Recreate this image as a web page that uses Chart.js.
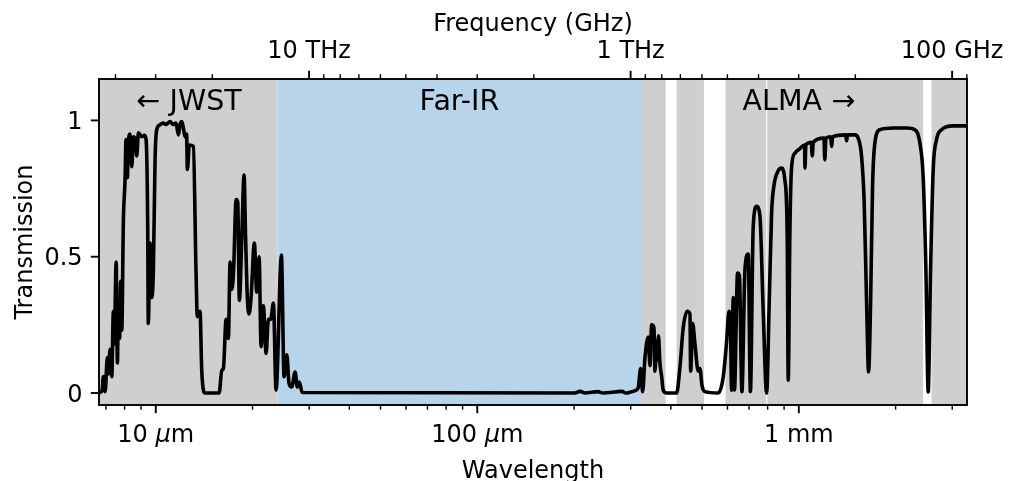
<!DOCTYPE html>
<html>
<head>
<meta charset="utf-8">
<title>Atmospheric transmission</title>
<script src="https://cdn.jsdelivr.net/npm/chart.js@4.4.1/dist/chart.umd.min.js"></script>
<style>
  html, body { margin: 0; padding: 0; background: #ffffff; }
  canvas { display: block; }
</style>
</head>
<body>
<canvas id="chart" width="1009" height="481"></canvas>
<script>
// Atmospheric transmission against wavelength (micrometres)
const wavelengthUm = [
  6.66, 6.81, 6.87, 6.96, 7.07, 7.12, 7.21, 7.30, 7.38, 7.43,
  7.53, 7.60, 7.65, 7.72, 7.78, 7.84, 7.93, 8.03, 8.08, 8.16,
  8.22, 8.32, 8.42, 8.52, 8.62, 8.73, 8.83, 9.05, 9.22, 9.33,
  9.44, 9.48, 9.60, 9.72, 9.83, 9.95, 10.07, 10.31, 10.54, 10.77,
  11.08, 11.32, 11.56, 11.76, 11.90, 12.05, 12.20, 12.33, 12.47, 12.54,
  12.72, 13.09, 13.34, 13.47, 13.73, 13.90, 14.23, 15.74, 16.05, 16.23,
  16.55, 16.82, 17.03, 17.24, 17.46, 17.78, 17.99, 18.20, 18.52, 18.82,
  19.03, 19.27, 19.51, 19.79, 20.26, 20.61, 20.96, 21.26, 21.61, 22.04,
  22.40, 22.79, 23.22, 23.67, 24.59, 25.07, 25.56, 25.98, 26.49, 27.12,
  27.57, 27.97, 28.52,
  201.3, 208.6, 216.2, 237.3, 246.0, 281.8, 290.0, 298.5,
  311.6, 316.7, 322.2, 326.8, 332.3, 340.2, 344.4, 348.6, 354.4, 357.0,
  361.3, 363.4, 366.0, 369.9, 374.5, 378.8, 388.1,
  416.9, 426.9, 437.1, 449.8, 458.6, 460.9, 467.5, 475.3, 486.6, 492.6,
  499.7, 510.5,
  561.6, 582.1, 596.4, 606.3, 612.9, 618.1, 625.3, 630.6, 645.2, 653.6,
  665.4, 679.8, 696.1, 707.1, 721.4, 739.2, 756.9, 774.9, 794.1,
  809.0, 823.0, 836.7, 862.9, 884.2, 905.3, 920.4, 927.0, 938.3, 949.8,
  972.5, 1004, 1042, 1045, 1052, 1093, 1101, 1109, 1197, 1205,
  1214, 1256, 1265, 1274, 1398, 1408, 1418, 1494, 1530, 1567,
  1597, 1625, 1648, 1672, 1696, 1724, 1787, 1966, 2163, 2296,
  2380, 2437, 2485, 2526, 2569, 2618, 2682, 2780, 3020, 3335
];
const transmission = [
  0.00, 0.01, 0.06, 0.005, 0.13, 0.07, 0.16, 0.06, 0.30, 0.18,
  0.48, 0.11, 0.33, 0.20, 0.41, 0.23, 0.63, 0.79, 0.93, 0.79,
  0.92, 0.95, 0.83, 0.94, 0.93, 0.87, 0.955, 0.94, 0.945, 0.93,
  0.61, 0.255, 0.55, 0.35, 0.45, 0.855, 0.966, 0.984, 0.99, 0.985,
  0.996, 0.985, 0.99, 0.947, 0.985, 0.996, 0.97, 0.94, 0.95, 0.82,
  0.91, 0.905, 0.45, 0.28, 0.30, 0.083, 0.0, 0.0, 0.083, 0.09,
  0.27, 0.20, 0.48, 0.38, 0.45, 0.71, 0.70, 0.34, 0.57, 0.80,
  0.57, 0.35, 0.29, 0.35, 0.55, 0.37, 0.50, 0.17, 0.32, 0.145,
  0.27, 0.27, 0.33, 0.01, 0.506, 0.06, 0.14, 0.035, 0.022, 0.077,
  0.022, 0.04, 0.002,
  0.0, 0.006, 0.0, 0.005, 0.0, 0.006, 0.0, 0.003,
  0.01, 0.02, 0.09, 0.005, 0.13, 0.205, 0.10, 0.25, 0.24, 0.08,
  0.19, 0.12, 0.21, 0.11, 0.06, 0.01, 0.0,
  0.0, 0.095, 0.24, 0.30, 0.29, 0.08, 0.255, 0.18, 0.08, 0.09,
  0.03, 0.005,
  0.0, 0.06, 0.19, 0.30, 0.25, 0.01, 0.35, 0.01, 0.44, 0.43,
  0.005, 0.45, 0.51, 0.005, 0.61, 0.685, 0.65, 0.30, 0.0,
  0.33, 0.66, 0.76, 0.815, 0.825, 0.78, 0.57, 0.047, 0.60, 0.83,
  0.88, 0.895, 0.91, 0.825, 0.91, 0.92, 0.87, 0.92, 0.935, 0.855,
  0.935, 0.94, 0.905, 0.94, 0.947, 0.925, 0.947, 0.947, 0.935, 0.87,
  0.70, 0.33, 0.077, 0.33, 0.76, 0.917, 0.966, 0.972, 0.972, 0.966,
  0.917, 0.79, 0.45, 0.004, 0.45, 0.82, 0.93, 0.966, 0.98, 0.98
];

// Axis ranges
const X_MIN = 6.66, X_MAX = 3335;
const Y_MIN = -0.044, Y_MAX = 1.152;

// Tick values and labels
const wavelengthMajorTicks = [10, 100, 1000];
const wavelengthMajorLabels = ['10 μm', '100 μm', '1 mm'];
const wavelengthMinorTicks = [7, 8, 9, 20, 30, 40, 50, 60, 70, 80, 90,
  200, 300, 400, 500, 600, 700, 800, 900, 2000, 3000];
const frequencyMajorTicksGHz = [10000, 1000, 100];
const frequencyMajorLabels = ['10 THz', '1 THz', '100 GHz'];
const frequencyMinorTicksGHz = [40000, 30000, 20000, 9000, 8000, 7000, 6000, 5000, 4000,
  3000, 2000, 900, 800, 700, 600, 500, 400, 300, 200, 90];
const transmissionTicks = [0, 0.5, 1];
const transmissionTickLabels = ['0', '0.5', '1'];

// Observing windows (micrometres)
const observatoryBandsUm = [[6.66, 23.9], [325.2, 385.3], [416.9, 507], [591.6, 792], [798, 2435], [2586, 3335]];
const farIrBandUm = [23.9, 325.2];
const regionNames = ['← JWST', 'Far-IR', 'ALMA →'];
const regionNameWavelengthsUm = [12.7, 88, 1000];
const regionNameLevel = 1.077;

const C_UM_GHZ = 299792.458;   // speed of light in µm·GHz

const FONT = '"DejaVu Sans", "Liberation Sans", sans-serif';
const TICK_FONT_PX = 24;
const REGION_FONT_PX = 28.5;
const MAJOR_LEN = 8.2, MINOR_LEN = 4.7, TICK_PAD = 8.2;
const GREY = '#cfcfcf';
const BLUE = '#b8d4ea';

const points = wavelengthUm.map((w, i) => ({ x: w, y: transmission[i] }));

// Draws a label, setting any µ in oblique type as mathtext does
function drawLabel(ctx, text, x, baseline, size, align) {
  const segs = text.split(/(μ)/).filter(s => s.length);
  const fonts = segs.map(s => (s === 'μ' ? 'italic ' : '') + size + 'px ' + FONT);
  const widths = segs.map((s, i) => { ctx.font = fonts[i]; return ctx.measureText(s).width; });
  const total = widths.reduce((a, b) => a + b, 0);
  let cx = align === 'right' ? x - total : (align === 'left' ? x : x - total / 2);
  ctx.textAlign = 'left';
  ctx.textBaseline = 'alphabetic';
  segs.forEach((s, i) => { ctx.font = fonts[i]; ctx.fillText(s, cx, baseline); cx += widths[i]; });
}

function line(ctx, x1, y1, x2, y2, w) {
  ctx.lineWidth = w;
  ctx.beginPath();
  ctx.moveTo(x1, y1);
  ctx.lineTo(x2, y2);
  ctx.stroke();
}

const decor = {
  id: 'decor',
  beforeDraw(chart) {
    const ctx = chart.ctx;
    ctx.save();
    ctx.fillStyle = '#ffffff';
    ctx.fillRect(0, 0, chart.width, chart.height);
    ctx.restore();
  },
  beforeDatasetsDraw(chart) {
    const { ctx, chartArea: a, scales: { x } } = chart;
    ctx.save();
    ctx.beginPath();
    ctx.rect(a.left, a.top, a.right - a.left, a.bottom - a.top);
    ctx.clip();
    ctx.fillStyle = GREY;
    observatoryBandsUm.forEach(([lo, hi]) => {
      const p0 = x.getPixelForValue(lo), p1 = x.getPixelForValue(hi);
      ctx.fillRect(p0, a.top, p1 - p0, a.bottom - a.top);
    });
    ctx.fillStyle = BLUE;
    const b0 = x.getPixelForValue(farIrBandUm[0]), b1 = x.getPixelForValue(farIrBandUm[1]);
    ctx.fillRect(b0, a.top, b1 - b0, a.bottom - a.top);
    ctx.restore();
  },
  afterDatasetsDraw(chart) {
    const { ctx, chartArea: a, scales: { x, y } } = chart;
    ctx.save();
    ctx.strokeStyle = '#000000';
    ctx.fillStyle = '#000000';
    ctx.lineCap = 'butt';

    // region names
    regionNames.forEach((name, i) => {
      const px = x.getPixelForValue(regionNameWavelengthsUm[i]);
      const py = y.getPixelForValue(regionNameLevel) + 0.365 * REGION_FONT_PX;
      drawLabel(ctx, name, px, py, REGION_FONT_PX, 'center');
    });

    // axes frame
    ctx.lineWidth = 1.9;
    ctx.strokeRect(a.left, a.top, a.right - a.left, a.bottom - a.top);

    // bottom wavelength ticks
    wavelengthMinorTicks.forEach(v => {
      if (v < X_MIN || v > X_MAX) return;
      const px = x.getPixelForValue(v);
      line(ctx, px, a.bottom, px, a.bottom + MINOR_LEN, 1.4);
    });
    wavelengthMajorTicks.forEach((v, i) => {
      const px = x.getPixelForValue(v);
      line(ctx, px, a.bottom, px, a.bottom + MAJOR_LEN, 1.9);
      drawLabel(ctx, wavelengthMajorLabels[i], px, a.bottom + 36.5, TICK_FONT_PX, 'center');
    });

    // top frequency ticks
    frequencyMinorTicksGHz.forEach(f => {
      const w = C_UM_GHZ / f;
      if (w < X_MIN || w > X_MAX) return;
      const px = x.getPixelForValue(w);
      line(ctx, px, a.top, px, a.top - MINOR_LEN, 1.4);
    });
    frequencyMajorTicksGHz.forEach((f, i) => {
      const px = x.getPixelForValue(C_UM_GHZ / f);
      line(ctx, px, a.top, px, a.top - MAJOR_LEN, 1.9);
      drawLabel(ctx, frequencyMajorLabels[i], px, a.top - 21, TICK_FONT_PX, 'center');
    });

    // left transmission ticks
    transmissionTicks.forEach((v, i) => {
      const py = y.getPixelForValue(v);
      line(ctx, a.left - MAJOR_LEN, py, a.left, py, 1.9);
      drawLabel(ctx, transmissionTickLabels[i], a.left - MAJOR_LEN - TICK_PAD, py + 0.365 * TICK_FONT_PX, TICK_FONT_PX, 'right');
    });

    // axis titles
    const cx = (a.left + a.right) / 2;
    drawLabel(ctx, 'Frequency (GHz)', cx, 30.5, TICK_FONT_PX, 'center');
    drawLabel(ctx, 'Wavelength', cx, 477.5, TICK_FONT_PX, 'center');
    ctx.save();
    ctx.translate(31.5, (a.top + a.bottom) / 2);
    ctx.rotate(-Math.PI / 2);
    drawLabel(ctx, 'Transmission', 0, 0, TICK_FONT_PX, 'center');
    ctx.restore();

    ctx.restore();
  }
};

new Chart(document.getElementById('chart'), {
  type: 'scatter',
  data: {
    datasets: [{
      data: points,
      showLine: true,
      borderColor: '#000000',
      borderWidth: 3.6,
      borderJoinStyle: 'round',
      pointRadius: 0,
      pointHoverRadius: 0,
      cubicInterpolationMode: 'monotone',
      fill: false
    }]
  },
  options: {
    responsive: false,
    animation: false,
    devicePixelRatio: 1,
    events: [],
    layout: { padding: { left: 0, right: 42, top: 79, bottom: 0 } },
    plugins: { legend: { display: false }, tooltip: { enabled: false } },
    scales: {
      x: {
        type: 'logarithmic', position: 'bottom', min: X_MIN, max: X_MAX,
        ticks: { display: false }, grid: { display: false }, border: { display: false },
        afterFit(scale) { scale.height = 76; }
      },
      y: {
        type: 'linear', position: 'left', min: Y_MIN, max: Y_MAX,
        ticks: { display: false }, grid: { display: false }, border: { display: false },
        afterFit(scale) { scale.width = 99; }
      }
    }
  },
  plugins: [decor]
});
</script>
</body>
</html>
